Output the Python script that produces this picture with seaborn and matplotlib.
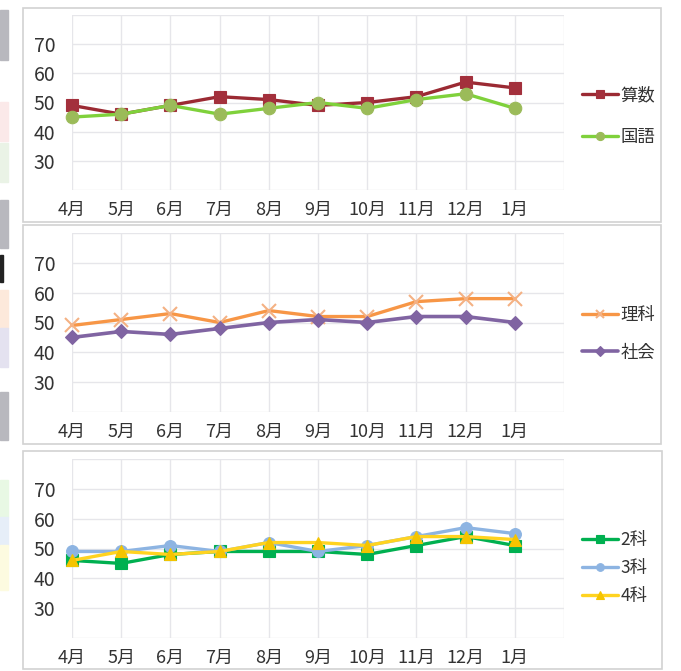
import numpy as np
import pandas as pd
import matplotlib.pyplot as plt
import seaborn as sns
from matplotlib.patches import Rectangle

# data
months = ['4月', '5月', '6月', '7月', '8月', '9月', '10月', '11月', '12月', '1月']
sansu = [49, 46, 49, 52, 51, 49, 50, 52, 57, 55]
kokugo = [45, 46, 49, 46, 48, 50, 48, 51, 53, 48]
rika = [49, 51, 53, 50, 54, 52, 52, 57, 58, 58]
shakai = [45, 47, 46, 48, 50, 51, 50, 52, 52, 50]
ka2 = [46, 45, 48, 49, 49, 49, 48, 51, 54, 51]
ka3 = [49, 49, 51, 49, 52, 49, 51, 54, 57, 55]
ka4 = [46, 49, 48, 49, 52, 52, 51, 54, 54, 53]

sns.set_style('whitegrid')
plt.rcParams['font.family'] = ['Noto Sans CJK JP', 'DejaVu Sans']

W, H = 681, 671
fig = plt.figure(figsize=(W / 100, H / 100), dpi=100)
fig.patch.set_facecolor('white')

# little cropped bits at the left edge of the screenshot
edge_bits = [(10, 60, '#b8b8be'), (102, 141, '#fbe9e9'), (143, 182, '#eaf3e6'),
             (200, 248, '#b8b8be'), (290, 328, '#fde9db'), (328, 367, '#e4e2f0'),
             (392, 440, '#b8b8be'), (480, 517, '#e8f8e4'), (517, 545, '#e6eef8'),
             (545, 590, '#fdfbe0')]
for y0, y1, c in edge_bits:
    fig.patches.append(Rectangle((0, 1 - y1 / H), 8 / W, (y1 - y0) / H,
                                 transform=fig.transFigure, color=c, zorder=0))
fig.patches.append(Rectangle((0, 1 - 282 / H), 3 / W, 27 / H, transform=fig.transFigure,
                             color='#222222', zorder=0))

# outer frames of each chart
frames = [(23, 8, 661, 222), (23, 225, 661, 444), (23, 451, 662, 669)]
for x0, y0, x1, y1 in frames:
    fig.patches.append(Rectangle((x0 / W, 1 - y1 / H), (x1 - x0) / W, (y1 - y0) / H,
                                 transform=fig.transFigure, fill=False,
                                 ec='#d2d2d2', lw=1.2, zorder=1))

plot_boxes = [(15, 190), (233, 412), (459, 638)]
leg_y = [116, 334, 568]
leg_space = [1.35, 1.1, 0.6]

panels = [
    [('算数', sansu, '#9b2a33', 's', '#a3303c', '#a3303c', 9, 2.4),
     ('国語', kokugo, '#7fd13b', 'o', '#9bbb59', '#9bbb59', 9, 2.4)],
    [('理科', rika, '#f79646', 'x', '#f4b183', '#f4b183', 9.5, 2.4),
     ('社会', shakai, '#8064a2', 'D', '#8064a2', '#8064a2', 7.5, 2.6)],
    [('2科', ka2, '#00b050', 's', '#00b050', '#00b050', 8, 2.4),
     ('3科', ka3, '#8db4e2', 'o', '#8db4e2', '#8db4e2', 8.5, 2.4),
     ('4科', ka4, '#ffd320', '^', '#f5c400', '#f5c400', 8, 2.4)],
]

x = np.arange(len(months))
for (top, bot), series, ly, ls in zip(plot_boxes, panels, leg_y, leg_space):
    ax = fig.add_axes([72 / W, 1 - bot / H, 492 / W, (bot - top) / H])
    for name, vals, lc, mk, mfc, mec, ms, lw in series:
        df = pd.DataFrame({'x': x, 'y': vals})
        sns.lineplot(data=df, x='x', y='y', ax=ax, color=lc, linewidth=lw,
                     marker=mk, markersize=ms, markerfacecolor=mfc,
                     markeredgecolor=mec, markeredgewidth=1.5 if mk == 'x' else 0.8,
                     label=name, clip_on=False)
    ax.set_xlim(0, 10)
    ax.set_ylim(20, 80)
    ax.set_xticks(range(11))
    ax.set_xticklabels(months + [''])
    ax.set_yticks(range(20, 90, 10))
    ax.set_yticklabels(['', '30', '40', '50', '60', '70', ''])
    ax.set_xlabel('')
    ax.set_ylabel('')
    ax.grid(True, color='#e6e6ea', linewidth=1)
    for s in ax.spines.values():
        s.set_visible(False)
    ax.tick_params(axis='x', length=0, pad=8, labelsize=13, labelcolor='#333333')
    ax.tick_params(axis='y', length=0, pad=12, labelsize=14, labelcolor='#333333')
    ax.legend_.remove()
    handles, labels = ax.get_legend_handles_labels()
    fig.legend(handles, labels, loc='center left', bbox_to_anchor=(582 / W, 1 - ly / H),
               frameon=False, borderaxespad=0, borderpad=0, handlelength=2.1,
               handletextpad=0.1, labelspacing=ls, fontsize=12.5, markerscale=0.65,
               labelcolor='#333333')

fig.savefig('out.png', dpi=100, facecolor='white')
